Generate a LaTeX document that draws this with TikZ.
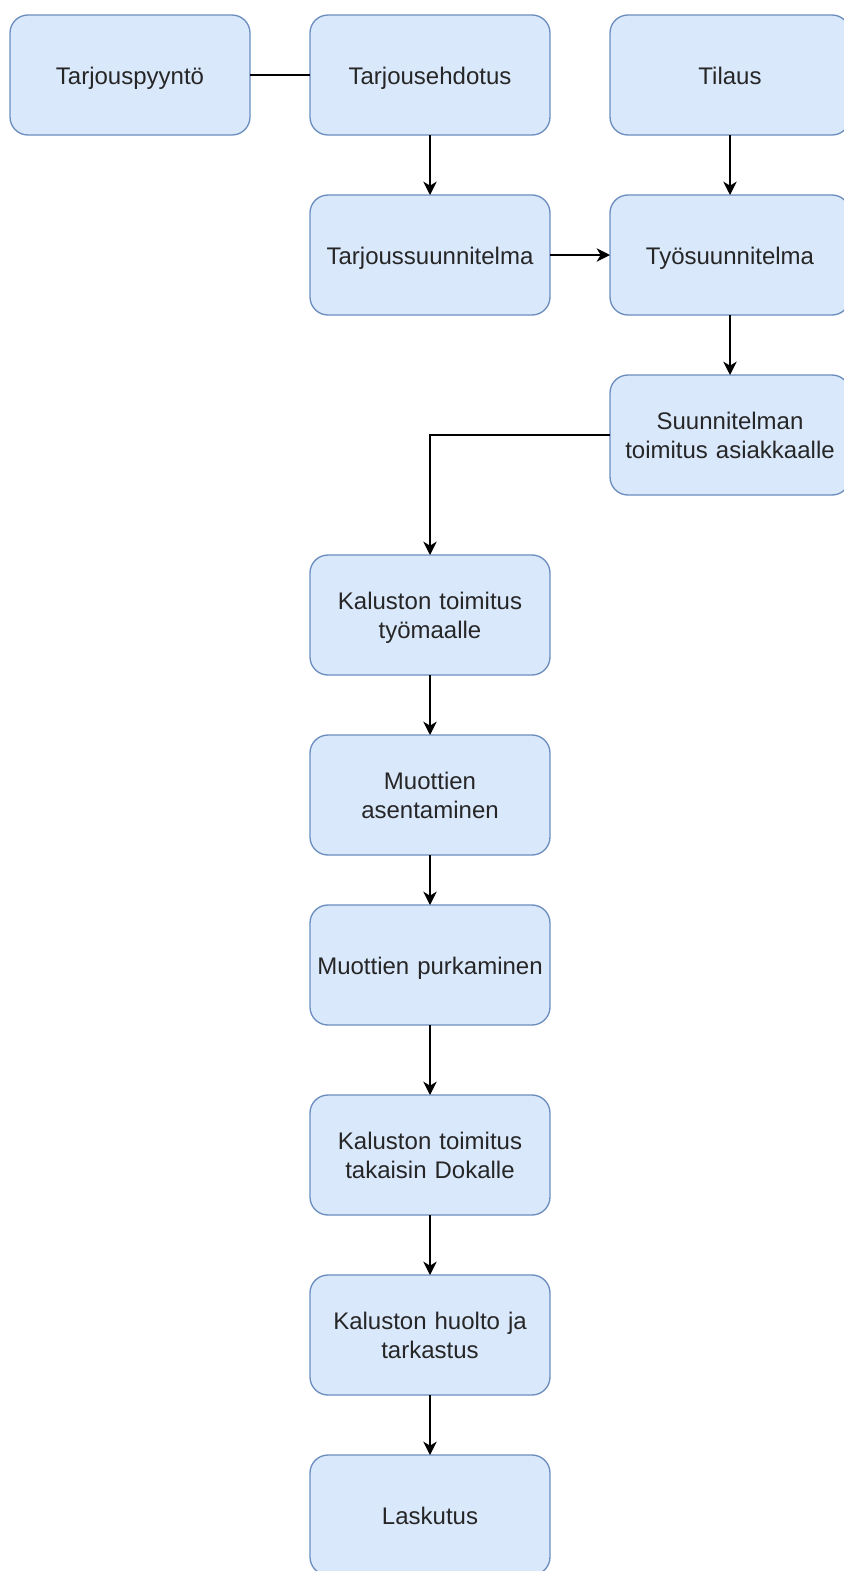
\documentclass[tikz,border=0pt]{standalone}
\usepackage{fontspec}
\setmainfont{Liberation Sans}
\usetikzlibrary{arrows.meta, positioning, calc}

\definecolor{boxfill}{HTML}{DAE8FC}
\definecolor{boxline}{HTML}{6C8EBF}

\begin{document}
\begin{tikzpicture}[
  box/.style={draw=boxline, fill=boxfill, line width=1pt, rounded corners=13.5pt,
              minimum width=180pt, minimum height=90pt, outer sep=0pt,
              text width=172pt, align=center,
              text=black!85, font=\fontsize{18pt}{21.6pt}\selectfont,
              execute at begin node=\rule{0pt}{20pt}, execute at end node=\strut},
  arr/.style={-{Stealth[length=10pt, width=10pt, inset=3pt]}, line width=1.4pt},
  link/.style={line width=1.4pt},
  node distance=45pt and 45pt
]
  \useasboundingbox (0,0) rectangle (632.25pt,-1178.25pt);

  \node[box] (pyynto) at (97.5pt,-56.25pt) {Tarjouspyyntö};
  \node[box, right=of pyynto] (ehdotus) {Tarjousehdotus};
  \node[box, right=of ehdotus] (tilaus) {Tilaus};
  \node[box, below=of ehdotus] (tsuunn) {Tarjoussuunnitelma};
  \node[box, below=of tilaus] (tyosuunn) {Työsuunnitelma};
  \node[box, below=of tyosuunn] (toimitus) {Suunnitelman\\toimitus asiakkaalle};
  \node[box, below=45pt of $(tsuunn|-toimitus.south)$] (tyomaa) {Kaluston toimitus\\työmaalle};
  \node[box, below=of tyomaa] (asent) {Muottien\\asentaminen};
  \node[box, below=37.5pt of asent] (purku) {Muottien purkaminen};
  \node[box, below=52.5pt of purku] (takaisin) {Kaluston toimitus\\takaisin Dokalle};
  \node[box, below=of takaisin] (huolto) {Kaluston huolto ja\\tarkastus};
  \node[box, below=of huolto] (lasku) {Laskutus};

  \draw[link] (pyynto) -- (ehdotus);
  \draw[arr] (ehdotus) -- (tsuunn);
  \draw[arr] (tilaus) -- (tyosuunn);
  \draw[arr] (tsuunn) -- (tyosuunn);
  \draw[arr] (tyosuunn) -- (toimitus);
  \draw[arr] (toimitus.west) -| (tyomaa.north);
  \draw[arr] (tyomaa) -- (asent);
  \draw[arr] (asent) -- (purku);
  \draw[arr] (purku) -- (takaisin);
  \draw[arr] (takaisin) -- (huolto);
  \draw[arr] (huolto) -- (lasku);
\end{tikzpicture}
\end{document}
